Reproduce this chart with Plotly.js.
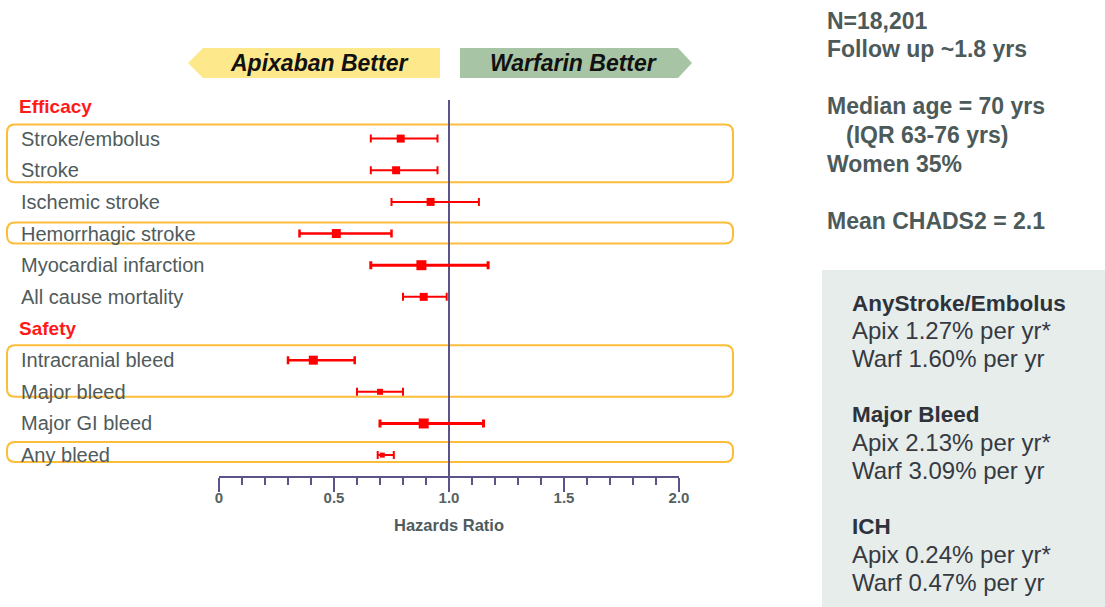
<!DOCTYPE html>
<html>
<head>
<meta charset="utf-8">
<script src="https://cdn.plot.ly/plotly-3.0.1.min.js"></script>
<style>
  html, body { margin: 0; padding: 0; background: #ffffff; }
  #chart { width: 1105px; height: 607px; }
</style>
</head>
<body>
<div id="chart"></div>
<script>
// ---------------- DATA ----------------
const rowOrder = ['Efficacy', 'Stroke/embolus', 'Stroke', 'Ischemic stroke', 'Hemorrhagic stroke',
  'Myocardial infarction', 'All cause mortality', 'Safety', 'Intracranial bleed', 'Major bleed',
  'Major GI bleed', 'Any bleed'];
const groupHeaders = ['Efficacy', 'Safety'];
const outcomes = ['Stroke/embolus', 'Stroke', 'Ischemic stroke', 'Hemorrhagic stroke',
  'Myocardial infarction', 'All cause mortality', 'Intracranial bleed', 'Major bleed',
  'Major GI bleed', 'Any bleed'];
const hazardRatio = [0.79, 0.77, 0.92, 0.51, 0.88, 0.89, 0.41, 0.70, 0.89, 0.71];
const ciLower     = [0.66, 0.66, 0.75, 0.35, 0.66, 0.80, 0.30, 0.60, 0.70, 0.69];
const ciUpper     = [0.95, 0.95, 1.13, 0.75, 1.17, 0.99, 0.59, 0.80, 1.15, 0.76];
const highlightedGroups = [['Stroke/embolus', 'Stroke'], ['Hemorrhagic stroke'],
  ['Intracranial bleed', 'Major bleed'], ['Any bleed']];
const xTickValues = [0, 0.5, 1, 1.5, 2];
const xTickLabels = ['0', '0.5', '1.0', '1.5', '2.0'];
const xAxisTitle = 'Hazards Ratio';
const leftArrowText = 'Apixaban Better';
const rightArrowText = 'Warfarin Better';
const studyLines = ['N=18,201', 'Follow up ~1.8 yrs', '', 'Median age = 70 yrs', '(IQR 63-76 yrs)',
  'Women 35%', '', 'Mean CHADS2 = 2.1'];
const rateHeadings = ['AnyStroke/Embolus', 'Major Bleed', 'ICH'];
const rateApix = ['Apix 1.27% per yr*', 'Apix 2.13% per yr*', 'Apix 0.24% per yr*'];
const rateWarf = ['Warf 1.60% per yr', 'Warf 3.09% per yr', 'Warf 0.47% per yr'];

// ---------------- STYLE ----------------
const markerSizes = [8, 8, 8, 9, 10, 8, 9, 6, 10, 5];
const barThickness = [2, 2, 2, 2.5, 3, 2, 2.5, 2, 3, 2];
const RED = '#ff0000';
const AXIS = '#5b5389';
const LABEL = '#4f5b5c';
const FONT = 'Liberation Sans, Arial, sans-serif';

// plot area in pixels
const L = 219, R = 426, T = 100, B = 131, W = 1105 - L - R, H = 607 - T - B;
const px2x = p => (p - L) / W;
const py2y = p => (T + H - p) / H;

function roundRect(x0p, y0p, x1p, y1p, r) {
  r = Math.min(r, (y1p - y0p) / 2);
  const X = px2x, Y = py2y;
  return `M ${X(x0p + r)},${Y(y0p)} L ${X(x1p - r)},${Y(y0p)} Q ${X(x1p)},${Y(y0p)} ${X(x1p)},${Y(y0p + r)} ` +
    `L ${X(x1p)},${Y(y1p - r)} Q ${X(x1p)},${Y(y1p)} ${X(x1p - r)},${Y(y1p)} ` +
    `L ${X(x0p + r)},${Y(y1p)} Q ${X(x0p)},${Y(y1p)} ${X(x0p)},${Y(y1p - r)} ` +
    `L ${X(x0p)},${Y(y0p + r)} Q ${X(x0p)},${Y(y0p)} ${X(x0p + r)},${Y(y0p)} Z`;
}
function poly(points) {
  return 'M ' + points.map(p => `${px2x(p[0])},${py2y(p[1])}`).join(' L ') + ' Z';
}

// ---------------- TRACES ----------------
const traces = outcomes.map((name, i) => ({
  type: 'scatter',
  mode: 'markers',
  x: [hazardRatio[i]],
  y: [rowOrder.indexOf(name)],
  marker: { symbol: 'square', size: markerSizes[i], color: RED },
  error_x: {
    type: 'data', symmetric: false,
    array: [ciUpper[i] - hazardRatio[i]],
    arrayminus: [hazardRatio[i] - ciLower[i]],
    color: RED, thickness: barThickness[i], width: 4
  },
  hoverinfo: 'skip'
}));

// row index -> pixel helper for the highlight boxes
const yRange = [11.66, -0.22];
const rowPx = idx => T + (idx - yRange[1]) / (yRange[0] - yRange[1]) * H;

// ---------------- SHAPES ----------------
const shapes = [];
// grey info panel
shapes.push({ type: 'rect', xref: 'paper', yref: 'paper', layer: 'below',
  x0: px2x(822), x1: px2x(1110), y0: py2y(270), y1: py2y(612),
  fillcolor: '#e6edeb', line: { width: 0 } });
// arrows
shapes.push({ type: 'path', xref: 'paper', yref: 'paper', layer: 'below',
  path: poly([[188, 63], [203, 48], [440, 48], [440, 78], [203, 78]]),
  fillcolor: '#fde98c', line: { width: 0 } });
shapes.push({ type: 'path', xref: 'paper', yref: 'paper', layer: 'below',
  path: poly([[460, 48], [678, 48], [692, 63], [678, 78], [460, 78]]),
  fillcolor: '#a7c4a4', line: { width: 0 } });
// highlight boxes
const boxPad = [[14, 12], [11, 10], [15, 5], [13, 7]];
highlightedGroups.forEach((g, k) => {
  const top = rowPx(rowOrder.indexOf(g[0])) - boxPad[k][0];
  const bot = rowPx(rowOrder.indexOf(g[g.length - 1])) + boxPad[k][1];
  shapes.push({ type: 'path', xref: 'paper', yref: 'paper', layer: 'below',
    path: roundRect(7, top, 733, bot, 8),
    line: { color: '#fbbd3a', width: 2 } });
});
// reference line at HR = 1
shapes.push({ type: 'line', xref: 'x', yref: 'paper', x0: 1, x1: 1, y0: 0, y1: 1,
  line: { color: AXIS, width: 2 }, layer: 'below' });

// ---------------- ANNOTATIONS ----------------
const annotations = [];
rowOrder.forEach((name, idx) => {
  const isHeader = groupHeaders.includes(name);
  annotations.push({
    xref: 'paper', yref: 'y', x: px2x(isHeader ? 17 : 19), y: idx,
    xanchor: 'left', yanchor: 'middle', showarrow: false, text: name,
    font: isHeader ? { family: FONT, size: 19, color: '#ff1a1a', weight: 'bold' }
                   : { family: FONT, size: 20, color: LABEL }
  });
});
annotations.push({ xref: 'paper', yref: 'paper', x: px2x(319), y: py2y(63),
  xanchor: 'center', yanchor: 'middle', showarrow: false, text: '<b><i>' + leftArrowText + '</i></b>',
  font: { family: FONT, size: 23, color: '#111111' } });
annotations.push({ xref: 'paper', yref: 'paper', x: px2x(573), y: py2y(63),
  xanchor: 'center', yanchor: 'middle', showarrow: false, text: '<b><i>' + rightArrowText + '</i></b>',
  font: { family: FONT, size: 23, color: '#111111' } });
annotations.push({ xref: 'paper', yref: 'paper', x: 0.5, y: py2y(525),
  xanchor: 'center', yanchor: 'middle', showarrow: false, text: xAxisTitle,
  font: { family: FONT, size: 16.5, color: LABEL, weight: 'bold' } });
studyLines.forEach((line, i) => {
  if (!line) return;
  annotations.push({ xref: 'paper', yref: 'paper',
    x: px2x(line.startsWith('(') ? 844 : 825), y: py2y(21 + i * 28.5),
    xanchor: 'left', yanchor: 'middle', showarrow: false, text: line,
    font: { family: FONT, size: 23, color: '#4d5a5a', weight: 'bold' } });
});
rateHeadings.forEach((h, k) => {
  const base = 303 + k * 4 * 27.9;
  annotations.push({ xref: 'paper', yref: 'paper', x: px2x(850), y: py2y(base),
    xanchor: 'left', yanchor: 'middle', showarrow: false, text: h,
    font: { family: FONT, size: 22.5, color: '#2e323b', weight: 'bold' } });
  annotations.push({ xref: 'paper', yref: 'paper', x: px2x(850), y: py2y(base + 27.9),
    xanchor: 'left', yanchor: 'middle', showarrow: false, text: rateApix[k],
    font: { family: FONT, size: 24, color: '#363a42' } });
  annotations.push({ xref: 'paper', yref: 'paper', x: px2x(850), y: py2y(base + 2 * 27.9),
    xanchor: 'left', yanchor: 'middle', showarrow: false, text: rateWarf[k],
    font: { family: FONT, size: 24, color: '#363a42' } });
});

// ---------------- LAYOUT ----------------
const layout = {
  width: 1105, height: 607,
  margin: { l: L, r: R, t: T, b: B, pad: 0 },
  paper_bgcolor: '#ffffff', plot_bgcolor: 'rgba(0,0,0,0)',
  showlegend: false, hovermode: false,
  font: { family: FONT },
  xaxis: {
    range: [0, 2], showgrid: false, zeroline: false, fixedrange: true,
    showline: true, linecolor: AXIS, linewidth: 2,
    ticks: 'outside', ticklen: 14, tickwidth: 2, tickcolor: AXIS,
    tickvals: xTickValues, ticktext: xTickLabels, ticklabelstandoff: -7,
    tickfont: { family: FONT, size: 15, color: '#56625f', weight: 'bold' },
    minor: { dtick: 0.1, tick0: 0, ticks: 'outside', ticklen: 7, tickwidth: 2, tickcolor: AXIS, showgrid: false }
  },
  yaxis: { range: yRange, visible: false, fixedrange: true, showgrid: false, zeroline: false },
  shapes: shapes,
  annotations: annotations
};

Plotly.newPlot('chart', traces, layout, { displayModeBar: false, staticPlot: true });
</script>
</body>
</html>
